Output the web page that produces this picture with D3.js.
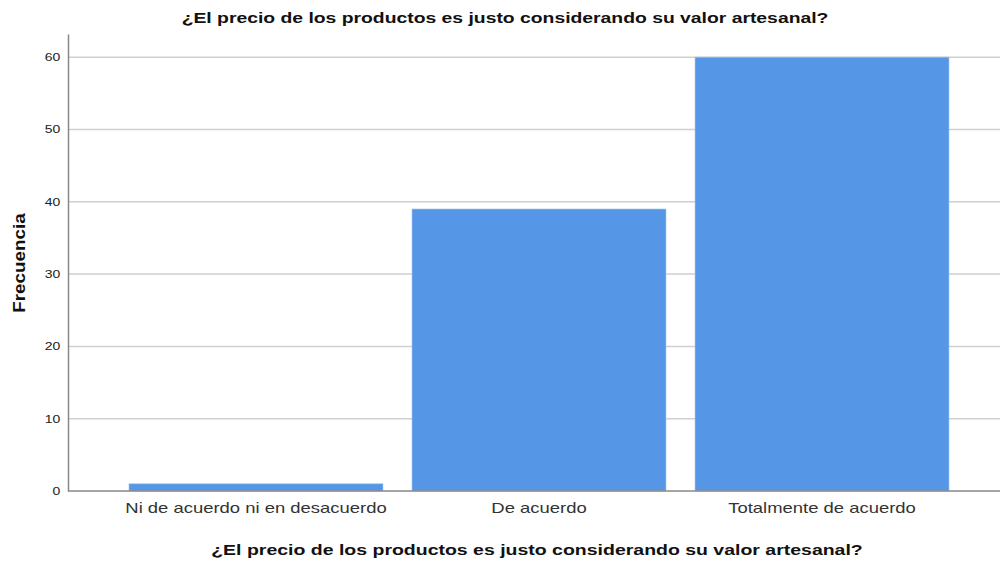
<!DOCTYPE html>
<html>
<head>
<meta charset="utf-8">
<script src="https://cdn.jsdelivr.net/npm/d3@7"></script>
<style>
  body { margin: 0; background: #fff; }
  svg { display: block; font-family: "Liberation Sans", Arial, sans-serif; }
</style>
</head>
<body>
<svg width="1000" height="566"></svg>
<script>
// datos
const categorias = ['Ni de acuerdo ni en desacuerdo', 'De acuerdo', 'Totalmente de acuerdo'];
const frecuencias = [1, 39, 60];
const ticksY = [0, 10, 20, 30, 40, 50, 60];
const titulo = '¿El precio de los productos es justo considerando su valor artesanal?';

const svg = d3.select('svg');
const margen = { left: 68, right: 1010, top: 34, bottom: 491 };
// el texto del original es más ancho que Arial: se estira en horizontal
const estiro = 1.27;

const x = d3.scaleBand()
    .domain(categorias)
    .range([margen.left, margen.right])
    .paddingInner(0.1025)
    .paddingOuter(0.2155);

const y = d3.scaleLinear()
    .domain([0, 63.2])
    .range([margen.bottom, margen.top]);

// líneas de cuadrícula
svg.append('g')
    .selectAll('line')
    .data(ticksY.filter(d => d > 0))
    .enter()
    .append('line')
    .attr('x1', margen.left)
    .attr('x2', 1000)
    .attr('y1', d => y(d))
    .attr('y2', d => y(d))
    .attr('stroke', '#cfcfcf')
    .attr('stroke-width', 1.5);

// barras
svg.append('g')
    .selectAll('rect')
    .data(frecuencias)
    .enter()
    .append('rect')
    .attr('x', (d, i) => x(categorias[i]))
    .attr('y', d => y(d))
    .attr('width', x.bandwidth())
    .attr('height', d => margen.bottom - y(d))
    .attr('fill', '#5596e6')
    .attr('stroke', '#a9c9f0')
    .attr('stroke-width', 0.6);

// eje Y
const ejeY = svg.append('g')
    .attr('transform', `translate(${margen.left},0)`)
    .call(d3.axisLeft(y).tickValues(ticksY).tickSize(0).tickPadding(6));
ejeY.select('.domain').attr('stroke', '#888').attr('stroke-width', 1.5);
ejeY.selectAll('text')
    .attr('transform', `scale(${estiro},1)`)
    .style('font-size', '11px')
    .style('fill', '#222')
    .style('font-family', '"Liberation Sans", Arial, sans-serif');

// eje X
const ejeX = svg.append('g')
    .attr('transform', `translate(0,${margen.bottom})`)
    .call(d3.axisBottom(x).tickSize(0).tickPadding(11));
ejeX.select('.domain').attr('d', `M${margen.left},0H1000`).attr('stroke', '#888').attr('stroke-width', 1.5);
ejeX.selectAll('text')
    .attr('transform', `scale(${estiro - 0.04},1)`)
    .style('font-size', '15px')
    .style('fill', '#333')
    .style('font-family', '"Liberation Sans", Arial, sans-serif');

// título
svg.append('text')
    .attr('transform', `translate(505,23) scale(${estiro + 0.02},1)`)
    .attr('text-anchor', 'middle')
    .style('font-size', '15px')
    .style('font-weight', 'bold')
    .style('fill', '#111')
    .text(titulo);

// rótulo del eje X
svg.append('text')
    .attr('transform', `translate(537,555) scale(${estiro + 0.03},1)`)
    .attr('text-anchor', 'middle')
    .style('font-size', '15px')
    .style('font-weight', 'bold')
    .style('fill', '#111')
    .text(titulo);

// rótulo del eje Y
svg.append('text')
    .attr('transform', `translate(25,263) rotate(-90) scale(1.18,1)`)
    .attr('text-anchor', 'middle')
    .style('font-size', '16px')
    .style('font-weight', 'bold')
    .style('fill', '#111')
    .text('Frecuencia');
</script>
</body>
</html>
